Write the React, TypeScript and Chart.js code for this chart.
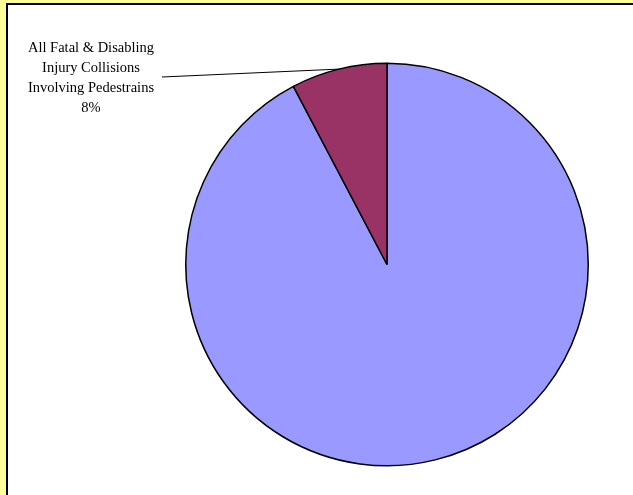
import React, { useEffect, useRef } from "react";
import { Chart, registerables } from "chart.js";

Chart.register(...registerables);

const categories = [
  "All Other Fatal & Disabling Injury Collisions",
  "All Fatal & Disabling Injury Collisions Involving Pedestrains",
];
const values = [92.3, 7.7];
const sliceColors = ["#9999FF", "#993366"];
const labelLines = ["All Fatal & Disabling", "Injury Collisions", "Involving Pedestrains"];

const labelPlugin = {
  id: "pedLabel",
  afterDatasetsDraw(chart: any) {
    const ctx = chart.ctx;
    const meta = chart.getDatasetMeta(0);
    const arc: any = meta.data[1];
    if (!arc) return;
    const { x, y, startAngle, endAngle, outerRadius } = arc.getProps(
      ["x", "y", "startAngle", "endAngle", "outerRadius"],
      true
    );
    const mid = (startAngle + endAngle) / 2;
    const ex = x + Math.cos(mid) * outerRadius;
    const ey = y + Math.sin(mid) * outerRadius;
    ctx.save();
    ctx.strokeStyle = "#000000";
    ctx.lineWidth = 1;
    ctx.beginPath();
    ctx.moveTo(162, 77);
    ctx.lineTo(ex, ey);
    ctx.stroke();
    ctx.fillStyle = "#000000";
    ctx.font = "14.5px 'Liberation Serif', 'Times New Roman', serif";
    ctx.textAlign = "center";
    ctx.textBaseline = "middle";
    const total = values.reduce((a, b) => a + b, 0);
    const pct = Math.round((values[1] / total) * 100) + "%";
    const lines = [...labelLines, pct];
    lines.forEach((t, i) => ctx.fillText(t, 91, 48 + i * 20));
    ctx.restore();
  },
};

export default function App() {
  const ref = useRef<HTMLCanvasElement>(null);
  useEffect(() => {
    document.body.style.margin = "0";
    const chart = new Chart(ref.current as HTMLCanvasElement, {
      type: "pie",
      data: {
        labels: categories,
        datasets: [
          {
            data: values,
            backgroundColor: sliceColors,
            borderColor: "#000000",
            borderWidth: 1.5,
          },
        ],
      },
      options: {
        responsive: false,
        animation: false,
        layout: { padding: { left: 185, right: 44, top: 62, bottom: 28 } },
        plugins: {
          legend: { display: false },
          tooltip: { enabled: false },
        },
      },
      plugins: [labelPlugin],
    });
    return () => chart.destroy();
  }, []);
  return (
    <div
      style={{
        position: "relative",
        width: 633,
        height: 495,
        background: "#FFFF99",
        overflow: "hidden",
      }}
    >
      <div
        style={{
          position: "absolute",
          left: 6,
          top: 3,
          width: 640,
          height: 500,
          background: "#FFFFFF",
          borderLeft: "2px solid #000",
          borderTop: "2px solid #000",
        }}
      />
      <canvas
        ref={ref}
        width={633}
        height={495}
        style={{ position: "absolute", left: 0, top: 0, display: "block" }}
      />
    </div>
  );
}
